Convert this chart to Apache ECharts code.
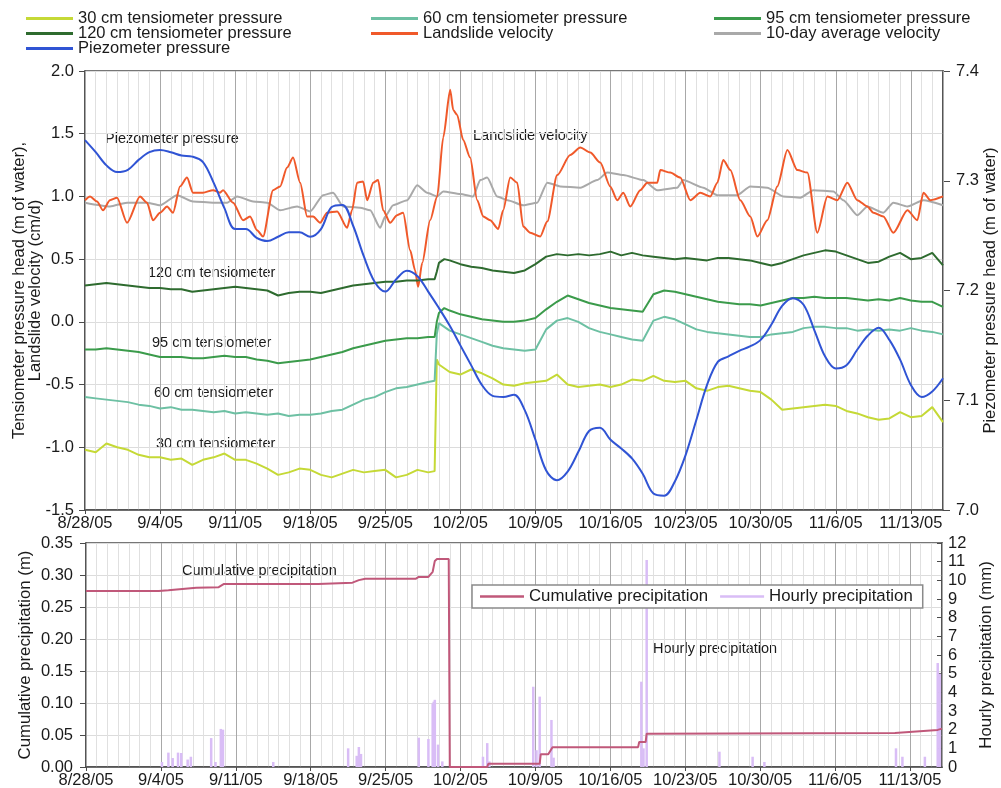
<!DOCTYPE html>
<html>
<head>
<meta charset="utf-8">
<script src="https://cdn.jsdelivr.net/npm/echarts@6/dist/echarts.min.js"></script>
<style>html,body{margin:0;padding:0;background:#fff;}#c{width:1001px;height:788px;}</style>
</head>
<body>
<div id="c"></div>
<script>
// ---- Data (x = days since 8/28/05) ----
const xTickLabels = ['8/28/05','9/4/05','9/11/05','9/18/05','9/25/05','10/2/05','10/9/05','10/16/05','10/23/05','10/30/05','11/6/05','11/13/05'];

const tensDays = [0,1,2,3,4,5,6,7,8,9,10,11,12,13,14,15,16,17,18,19,20,21,22,23,24,25,26,27,28,29,30,31,32,
  32.6,32.8,33,33.5,
  34,35,36,37,38,39,40,41,42,43,44,45,46,47,48,49,50,51,52,53,54,55,56,57,58,59,60,61,62,63,64,65,66,67,68,69,70,71,72,73,74,75,76,77,78,79,80];

const tens30 = [-1.02,-1.04,-0.97,-1.00,-1.02,-1.06,-1.08,-1.08,-1.10,-1.09,-1.14,-1.10,-1.08,-1.05,-1.10,-1.10,-1.13,-1.17,-1.22,-1.20,-1.17,-1.18,-1.22,-1.24,-1.21,-1.18,-1.20,-1.19,-1.18,-1.24,-1.22,-1.18,-1.20,
  -1.19,-0.30,-0.34,-0.37,
  -0.40,-0.42,-0.38,-0.41,-0.45,-0.50,-0.51,-0.49,-0.48,-0.47,
  -0.42,-0.50,-0.52,-0.51,-0.50,-0.52,-0.50,-0.46,-0.47,-0.43,
  -0.47,-0.48,-0.47,-0.53,-0.55,-0.52,-0.51,-0.53,-0.55,-0.56,
  -0.62,-0.70,-0.69,-0.68,-0.67,-0.66,-0.67,-0.71,-0.73,-0.76,
  -0.78,-0.77,-0.72,-0.76,-0.75,-0.68,-0.80];

const tens60 = [-0.60,-0.61,-0.62,-0.63,-0.64,-0.66,-0.67,-0.69,-0.68,-0.70,-0.70,-0.71,-0.72,-0.71,-0.73,-0.72,-0.73,-0.74,-0.73,-0.75,-0.74,-0.74,-0.73,-0.71,-0.70,-0.66,-0.62,-0.60,-0.56,-0.53,-0.52,-0.50,-0.48,
  -0.47,-0.10,-0.01,-0.04,
  -0.07,-0.10,-0.13,-0.16,-0.19,-0.21,-0.22,-0.23,-0.22,-0.06,
  0.01,0.03,0.00,-0.05,-0.08,-0.10,-0.12,-0.14,-0.15,0.01,
  0.04,0.02,-0.02,-0.06,-0.08,-0.09,-0.10,-0.11,-0.12,-0.12,
  -0.10,-0.09,-0.08,-0.05,-0.04,-0.04,-0.05,-0.05,-0.07,-0.06,
  -0.07,-0.06,-0.07,-0.05,-0.07,-0.08,-0.10];

const tens95 = [-0.22,-0.22,-0.21,-0.22,-0.23,-0.24,-0.26,-0.28,-0.28,-0.28,-0.29,-0.29,-0.28,-0.27,-0.28,-0.28,-0.30,-0.31,-0.33,-0.32,-0.31,-0.30,-0.28,-0.26,-0.24,-0.21,-0.19,-0.17,-0.15,-0.14,-0.13,-0.13,-0.12,
  -0.12,0.00,0.07,0.11,
  0.09,0.06,0.04,0.02,0.01,0.00,0.00,0.01,0.03,0.10,
  0.16,0.21,0.18,0.15,0.13,0.11,0.10,0.09,0.08,0.22,
  0.25,0.24,0.22,0.20,0.18,0.16,0.15,0.14,0.14,0.13,
  0.15,0.17,0.19,0.19,0.20,0.19,0.19,0.19,0.18,0.17,
  0.18,0.17,0.19,0.17,0.16,0.16,0.12];

const tens120 = [0.29,0.30,0.31,0.30,0.29,0.28,0.27,0.27,0.26,0.26,0.24,0.25,0.26,0.27,0.28,0.27,0.26,0.25,0.21,0.23,0.24,0.24,0.23,0.25,0.27,0.29,0.30,0.31,0.32,0.32,0.33,0.33,0.34,
  0.34,0.40,0.47,0.50,
  0.49,0.46,0.44,0.43,0.41,0.40,0.39,0.41,0.46,0.52,
  0.54,0.53,0.54,0.53,0.54,0.56,0.53,0.55,0.53,0.52,
  0.51,0.50,0.51,0.50,0.49,0.51,0.51,0.50,0.49,0.47,
  0.45,0.47,0.50,0.53,0.55,0.57,0.56,0.53,0.50,0.47,
  0.48,0.52,0.55,0.50,0.51,0.55,0.45];

// piezometer pressure head, one value per day (day 0 .. 80)
const piezo = [7.337,7.326,7.314,7.308,7.310,7.319,7.326,7.328,7.326,7.323,7.322,7.317,7.298,7.275,7.256,7.256,7.248,7.245,7.249,7.253,7.253,7.249,7.256,7.276,7.278,7.259,7.231,7.208,7.199,7.210,7.218,7.213,7.199,7.184,7.168,7.150,7.132,7.114,7.104,7.103,7.105,7.091,7.064,7.036,7.027,7.035,7.053,7.072,7.075,7.064,7.056,7.047,7.033,7.015,7.013,7.026,7.050,7.082,7.114,7.135,7.140,7.145,7.149,7.155,7.169,7.186,7.193,7.187,7.164,7.140,7.129,7.132,7.146,7.159,7.166,7.155,7.137,7.114,7.103,7.108,7.120];

// landslide velocity [day, cm/d]
const velocity = [[0,0.97],[0.47,1.0],[1.12,0.96],[1.68,0.89],[2.33,0.97],[2.99,0.99],[3.92,0.79],[5.13,1.0],[5.78,0.95],[6.34,0.81],[7.0,0.87],[7.65,0.92],[8.21,0.87],[8.86,1.08],[9.51,1.15],[10.07,1.03],[11.0,1.03],[11.94,1.05],[12.59,1.03],[12.87,1.05],[13.81,0.95],[14.74,0.81],[15.39,0.84],[16.04,0.73],[16.6,0.68],[17.54,1.05],[18.19,1.08],[18.84,1.23],[19.4,1.31],[20.06,1.11],[20.71,0.84],[21.27,0.84],[21.92,0.79],[22.57,0.87],[23.51,0.88],[24.44,0.75],[24.9,0.89],[25.37,1.11],[25.93,1.12],[26.31,0.97],[26.87,1.11],[27.33,1.13],[27.8,0.89],[28.45,0.79],[29.1,0.85],[29.66,0.87],[30.32,0.57],[30.78,0.41],[31.06,0.28],[31.44,0.47],[32.18,0.81],[32.84,1.0],[33.4,1.47],[34.05,1.85],[34.33,1.69],[34.7,1.65],[35.26,1.45],[35.91,1.31],[36.57,0.97],[37.13,0.84],[37.78,0.81],[38.53,0.74],[38.99,0.89],[39.65,1.15],[40.3,1.11],[40.86,0.76],[41.51,0.71],[42.44,0.68],[43.1,0.8],[44.03,1.17],[45.24,1.33],[46.18,1.39],[47.11,1.35],[48.04,1.27],[48.97,1.08],[49.63,0.97],[50.19,1.03],[50.84,0.92],[51.77,1.05],[52.43,1.11],[53.36,1.11],[53.64,1.21],[54.57,1.19],[55.5,1.15],[56.44,0.97],[57.37,1.03],[58.3,1.0],[58.96,1.11],[59.51,1.29],[60.17,1.21],[61.1,0.97],[62.03,0.84],[62.69,0.68],[63.62,0.81],[64.55,1.08],[65.49,1.37],[66.42,1.21],[67.35,1.19],[68.28,0.71],[69.22,1.0],[70.15,0.97],[71.08,1.11],[72.01,0.97],[72.95,0.92],[73.51,0.87],[74.44,0.84],[75.37,0.71],[76.68,0.89],[77.61,0.81],[78.17,1.03],[78.82,0.97],[80,1.0]];

// 10-day average velocity [day, cm/d]
const avgVelocity = [[0,0.95],[2.33,0.92],[3.92,0.95],[5.78,0.95],[7.0,0.93],[8.58,1.01],[10.07,0.96],[11.94,0.95],[13.25,0.95],[14.18,1.0],[15.67,0.96],[16.98,0.95],[18.19,0.89],[19.78,0.92],[21.0,0.88],[22.2,1.01],[23.13,1.03],[24.07,0.92],[25.65,0.91],[26.59,0.89],[27.52,0.75],[27.99,0.84],[28.73,0.93],[30.04,0.97],[30.97,1.09],[31.9,1.03],[32.84,1.0],[33.4,1.04],[35.0,1.02],[36.2,1.0],[36.85,1.13],[37.5,1.15],[38.43,1.0],[39.4,0.97],[40.86,0.93],[42.16,0.95],[43.1,1.11],[44.31,1.08],[46.18,1.07],[47.76,1.13],[48.69,1.19],[50.19,1.17],[52.05,1.13],[53.36,1.05],[55.22,1.07],[55.78,1.13],[57.65,1.07],[58.96,1.01],[60.82,1.01],[62.03,1.08],[63.62,1.07],[65.11,1.0],[66.7,0.99],[67.91,1.05],[69.78,1.04],[70.71,0.97],[72.01,0.85],[72.95,0.92],[74.44,0.87],[75.37,0.95],[76.68,0.92],[78.17,0.97],[80,0.93]];

// cumulative precipitation [day, m]
const cumPrecip = [[0,0.275],[6.8,0.275],[7.7,0.276],[9.0,0.278],[10.3,0.280],[12.4,0.281],[12.9,0.286],[21.7,0.286],[24.9,0.288],[25.5,0.292],[26.1,0.294],[30.8,0.294],[31.1,0.297],[32.0,0.297],[32.4,0.305],[32.6,0.322],[32.8,0.325],[33.9,0.325],[34.0,0],[37.5,0],[37.6,0.005],[42.4,0.005],[42.5,0.02],[43.2,0.02],[43.6,0.031],[51.6,0.031],[51.7,0.039],[52.3,0.039],[52.4,0.052],[75.6,0.053],[79.6,0.058],[80,0.06]];

// hourly precipitation [day, mm]
const hourlyPrecip = [[7.1,0.27],[7.7,0.77],[8.1,0.48],[8.6,0.77],[8.9,0.75],[9.5,0.4],[9.8,0.55],[11.7,1.55],[12.1,0.27],[12.6,2.04],[12.8,2.0],[17.5,0.27],[24.5,1.0],[25.3,0.6],[25.5,1.07],[25.7,0.7],[31.1,1.57],[32.0,1.5],[32.4,3.4],[32.5,3.5],[32.6,3.6],[32.9,1.2],[33.3,0.3],[37.1,0.55],[37.5,1.28],[37.7,0.3],[41.8,4.3],[42.1,0.9],[42.4,3.77],[43.5,2.52],[43.7,0.5],[51.9,4.57],[52.1,1.0],[52.4,11.09],[59.2,0.82],[62.3,0.55],[63.4,0.27],[75.7,1.0],[76.3,0.55],[78.4,0.55],[79.6,5.57],[79.8,5.0]];

// ---- Chart ----
const FONT = 'Liberation Sans, Arial, sans-serif';
const TXT = '#1a1a1a';
const AX = '#4a4a4a';
const pair = (xs, ys) => xs.map((x, i) => [x, ys[i]]);
const xFmt = v => (v % 7 === 0 && xTickLabels[v / 7] !== undefined) ? xTickLabels[v / 7] : '';

function weeklyX(grid) {
  return {
    type: 'value', gridIndex: grid, min: 0, max: 80, interval: 7, z: 2,
    axisLine: { show: true, onZero: false, lineStyle: { color: AX, width: 1.5 } },
    axisTick: { show: true, length: 4, lineStyle: { color: AX } },
    axisLabel: { formatter: xFmt, color: TXT, fontSize: 16.5, fontFamily: FONT, margin: 5, showMaxLabel: false },
    splitLine: { show: true, lineStyle: { color: '#a8a8a8', width: 1 } }
  };
}
function dailyX(grid) {
  return {
    type: 'value', gridIndex: grid, min: 0, max: 80, interval: 1, z: 0,
    axisLine: { show: false, onZero: false }, axisTick: { show: false }, axisLabel: { show: false },
    splitLine: { show: true, lineStyle: { color: '#e0e0e0', width: 1 } }
  };
}

const legendText = { color: TXT, fontSize: 16.5, fontFamily: FONT };
const topLegend = (left, data) => ({
  left: left, top: 10, orient: 'vertical', itemGap: -2, padding: 0,
  itemWidth: 47, itemHeight: 3, icon: 'rect', selectedMode: false,
  textStyle: legendText, data: data
});

const lineS = (name, data, color, xi, yi, extra) => Object.assign({
  name: name, type: 'line', data: data, xAxisIndex: xi, yAxisIndex: yi,
  showSymbol: false, symbol: 'none', lineStyle: { color: color, width: 2 }, itemStyle: { color: color }
}, extra || {});

const option = {
  animation: false,
  backgroundColor: '#fff',
  textStyle: { fontFamily: FONT },
  grid: [
    { left: 85, right: 58, top: 71, height: 439, outerBoundsMode: 'none', containLabel: false, show: true, borderColor: AX, borderWidth: 1.5, backgroundColor: 'rgba(0,0,0,0)' },
    { left: 86, right: 59, top: 543, height: 224, outerBoundsMode: 'none', containLabel: false, show: true, borderColor: AX, borderWidth: 1.5, backgroundColor: 'rgba(0,0,0,0)' }
  ],
  legend: [
    topLegend(26, ['30 cm tensiometer pressure', '120 cm tensiometer pressure', 'Piezometer pressure']),
    topLegend(371, ['60 cm tensiometer pressure', 'Landslide velocity']),
    topLegend(714, ['95 cm tensiometer pressure', '10-day average velocity']),
    {
      left: 472, top: 585, orient: 'horizontal', itemGap: 12, padding: [3, 10, 3, 8],
      itemWidth: 44, itemHeight: 2.5, icon: 'rect', selectedMode: false,
      borderColor: '#8a8a8a', borderWidth: 1.5, backgroundColor: '#fff',
      textStyle: { color: TXT, fontSize: 16.8, fontFamily: FONT },
      data: ['Cumulative precipitation', 'Hourly precipitation']
    }
  ],
  xAxis: [weeklyX(0), dailyX(0), weeklyX(1), dailyX(1)],
  yAxis: [
    {
      type: 'value', gridIndex: 0, min: -1.5, max: 2.0, interval: 0.5,
      axisLine: { show: true, onZero: false, lineStyle: { color: AX, width: 1.5 } },
      axisTick: { show: true, length: 6, lineStyle: { color: AX } },
      axisLabel: { formatter: v => v.toFixed(1), color: TXT, fontSize: 16.5, fontFamily: FONT, margin: 11 },
      splitLine: { show: true, lineStyle: { color: '#dcdcdc' } },
      name: 'Tensiometer pressure head (m of water),\nLandslide velocity (cm/d)',
      nameLocation: 'middle', nameRotate: 90, nameGap: 42, nameMoveOverlap: false,
      nameTextStyle: { color: TXT, fontSize: 16.5, fontFamily: FONT, lineHeight: 16 }
    },
    {
      type: 'value', gridIndex: 0, min: 7.0, max: 7.4, interval: 0.1, position: 'right',
      axisLine: { show: true, onZero: false, lineStyle: { color: AX, width: 1.5 } },
      axisTick: { show: true, length: 7, lineStyle: { color: AX } },
      axisLabel: { formatter: v => v.toFixed(1), color: TXT, fontSize: 16.5, fontFamily: FONT, margin: 13 },
      splitLine: { show: false },
      name: 'Piezometer pressure head (m of water)',
      nameLocation: 'middle', nameRotate: 90, nameGap: 39, nameMoveOverlap: false,
      nameTextStyle: { color: TXT, fontSize: 16.5, fontFamily: FONT }
    },
    {
      type: 'value', gridIndex: 1, min: 0, max: 0.35, interval: 0.05,
      axisLine: { show: true, onZero: false, lineStyle: { color: AX, width: 1.5 } },
      axisTick: { show: true, length: 6, lineStyle: { color: AX } },
      axisLabel: { formatter: v => v.toFixed(2), color: TXT, fontSize: 16.5, fontFamily: FONT, margin: 13 },
      splitLine: { show: true, lineStyle: { color: '#dcdcdc' } },
      name: 'Cumulative precipitation (m)',
      nameLocation: 'middle', nameRotate: 90, nameGap: 52, nameMoveOverlap: false,
      nameTextStyle: { color: TXT, fontSize: 16.8, fontFamily: FONT }
    },
    {
      type: 'value', gridIndex: 1, min: 0, max: 12, interval: 1, position: 'right',
      axisLine: { show: true, onZero: false, lineStyle: { color: AX, width: 1.5 } },
      axisTick: { show: true, inside: true, length: 5, lineStyle: { color: AX } },
      axisLabel: { color: TXT, fontSize: 16.5, fontFamily: FONT, margin: 6 },
      splitLine: { show: false },
      name: 'Hourly precipitation (mm)',
      nameLocation: 'middle', nameRotate: 90, nameGap: 36, nameMoveOverlap: false,
      nameTextStyle: { color: TXT, fontSize: 16.8, fontFamily: FONT }
    }
  ],
  series: [
    lineS('10-day average velocity', avgVelocity, '#a9a9a9', 0, 0, { smooth: 0.2, smoothMonotone: 'x' }),
    lineS('Landslide velocity', velocity, '#f0592a', 0, 0, { smooth: 0.25, smoothMonotone: 'x' }),
    lineS('30 cm tensiometer pressure', pair(tensDays, tens30), '#c5d936', 0, 0),
    lineS('60 cm tensiometer pressure', pair(tensDays, tens60), '#6dc0a3', 0, 0),
    lineS('95 cm tensiometer pressure', pair(tensDays, tens95), '#3b9b4b', 0, 0),
    lineS('120 cm tensiometer pressure', pair(tensDays, tens120), '#2e6b2f', 0, 0),
    lineS('Piezometer pressure', piezo.map((v, i) => [i, v]), '#3054d4', 0, 1, { smooth: 0.35 }),
    {
      name: 'Hourly precipitation', type: 'bar', xAxisIndex: 2, yAxisIndex: 3,
      data: hourlyPrecip, barWidth: 2.5, itemStyle: { color: '#d9bdf6' }
    },
    lineS('Cumulative precipitation', cumPrecip, '#c0587a', 2, 2)
  ],
  graphic: [
    { type: 'text', left: 105, top: 131, style: { text: 'Piezometer pressure', font: '14.5px ' + FONT, fill: TXT } },
    { type: 'text', left: 473, top: 128, style: { text: 'Landslide velocity', font: '14.5px ' + FONT, fill: TXT } },
    { type: 'text', left: 148, top: 265, style: { text: '120 cm tensiometer', font: '14.5px ' + FONT, fill: TXT } },
    { type: 'text', left: 152, top: 335, style: { text: '95 cm tensiometer', font: '14.5px ' + FONT, fill: TXT } },
    { type: 'text', left: 154, top: 385, style: { text: '60 cm tensiometer', font: '14.5px ' + FONT, fill: TXT } },
    { type: 'text', left: 156, top: 436, style: { text: '30 cm tensiometer', font: '14.5px ' + FONT, fill: TXT } },
    { type: 'text', left: 182, top: 563, style: { text: 'Cumulative precipitation', font: '14.5px ' + FONT, fill: TXT } },
    { type: 'text', left: 653, top: 641, style: { text: 'Hourly precipitation', font: '14.5px ' + FONT, fill: TXT } }
  ]
};

const chart = echarts.init(document.getElementById('c'), null, { renderer: 'canvas' });
chart.setOption(option);
</script>
</body>
</html>
